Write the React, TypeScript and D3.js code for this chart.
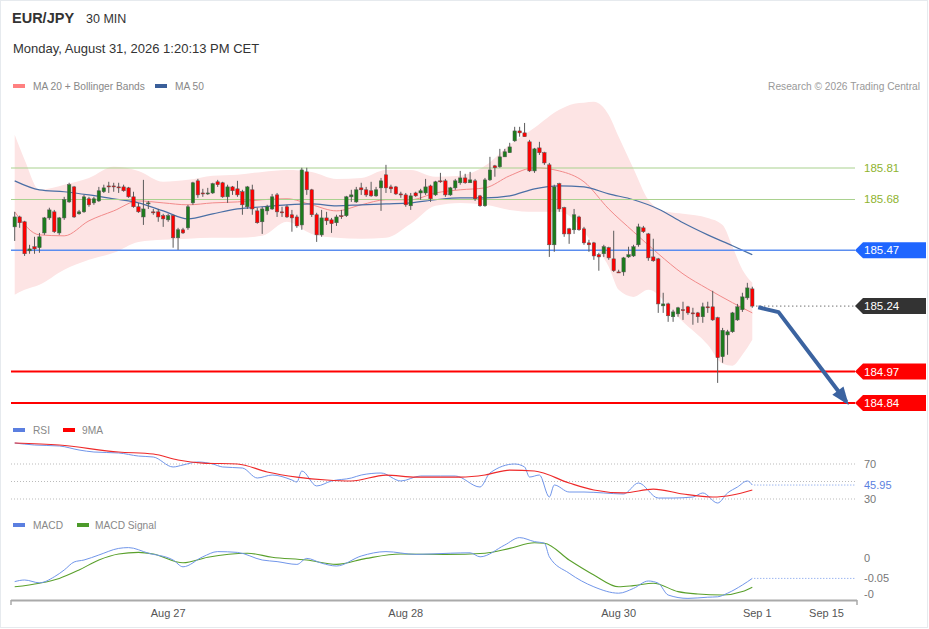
import React from 'react';
import * as d3 from 'd3';

// candles, 30 min, index 0..149
const open = [185.567,185.608,185.588,185.468,185.485,185.481,185.542,185.604,185.629,185.542,185.604,185.670,185.732,185.621,185.629,185.683,185.666,185.674,185.712,185.736,185.736,185.732,185.732,185.728,185.691,185.650,185.608,185.662,185.629,185.629,185.613,185.596,185.613,185.522,185.555,185.563,185.666,185.757,185.707,185.707,185.707,185.753,185.749,185.691,185.732,185.724,185.712,185.650,185.720,185.633,185.588,185.633,185.641,185.699,185.629,185.650,185.617,185.608,185.575,185.794,185.720,185.617,185.534,185.604,185.596,185.584,185.613,185.613,185.691,185.670,185.728,185.720,185.716,185.695,185.728,185.782,185.732,185.732,185.703,185.699,185.654,185.707,185.707,185.707,185.736,185.699,185.757,185.757,185.699,185.728,185.749,185.769,185.749,185.757,185.695,185.654,185.761,185.819,185.815,185.856,185.873,185.922,185.963,185.955,185.918,185.798,185.893,185.873,185.823,185.493,185.745,185.646,185.559,185.555,185.608,185.559,185.501,185.501,185.452,185.456,185.481,185.435,185.381,185.381,185.443,185.447,185.493,185.563,185.538,185.443,185.435,185.241,185.249,185.196,185.208,185.225,185.237,185.212,185.212,185.196,185.237,185.237,185.192,185.031,185.121,185.134,185.183,185.225,185.274,185.311];
const high = [185.629,185.613,185.592,185.493,185.526,185.542,185.608,185.646,185.637,185.608,185.691,185.749,185.736,185.637,185.699,185.691,185.691,185.732,185.741,185.753,185.749,185.749,185.741,185.732,185.712,185.666,185.761,185.674,185.641,185.641,185.621,185.621,185.617,185.563,185.563,185.658,185.753,185.765,185.724,185.728,185.749,185.761,185.753,185.741,185.736,185.757,185.720,185.736,185.741,185.646,185.650,185.658,185.703,185.707,185.650,185.658,185.637,185.617,185.811,185.811,185.724,185.625,185.637,185.629,185.604,185.617,185.637,185.695,185.720,185.732,185.749,185.732,185.753,185.732,185.769,185.823,185.741,185.736,185.712,185.707,185.707,185.712,185.724,185.765,185.741,185.757,185.790,185.765,185.732,185.765,185.798,185.786,185.794,185.765,185.699,185.769,185.856,185.823,185.889,185.889,185.914,185.980,185.980,185.996,185.926,185.893,185.918,185.877,185.831,185.741,185.749,185.650,185.563,185.641,185.613,185.567,185.514,185.505,185.460,185.493,185.485,185.551,185.390,185.443,185.485,185.493,185.580,185.571,185.542,185.518,185.439,185.295,185.254,185.225,185.237,185.258,185.241,185.233,185.216,185.254,185.258,185.303,185.196,185.150,185.142,185.216,185.249,185.295,185.336,185.320];
const low = [185.509,185.563,185.447,185.456,185.456,185.460,185.534,185.596,185.542,185.534,185.596,185.666,185.604,185.617,185.625,185.650,185.658,185.670,185.707,185.707,185.712,185.707,185.712,185.687,185.646,185.625,185.575,185.641,185.617,185.588,185.567,185.588,185.481,185.472,185.538,185.555,185.658,185.687,185.691,185.699,185.703,185.732,185.687,185.666,185.699,185.691,185.617,185.641,185.617,185.580,185.538,185.617,185.637,185.608,185.608,185.604,185.547,185.563,185.555,185.699,185.608,185.505,185.526,185.575,185.542,185.571,185.600,185.608,185.670,185.666,185.699,185.691,185.691,185.691,185.633,185.707,185.707,185.699,185.687,185.650,185.637,185.691,185.679,185.699,185.670,185.695,185.749,185.691,185.695,185.720,185.741,185.745,185.749,185.674,185.650,185.650,185.757,185.774,185.811,185.856,185.873,185.918,185.939,185.939,185.794,185.790,185.864,185.823,185.443,185.464,185.629,185.526,185.497,185.538,185.551,185.493,185.464,185.431,185.386,185.443,185.431,185.381,185.377,185.365,185.439,185.443,185.485,185.542,185.427,185.423,185.212,185.212,185.175,185.175,185.196,185.183,185.204,185.163,185.171,185.171,185.212,185.179,184.923,185.006,185.039,185.130,185.179,185.216,185.266,185.233];
const close = [185.608,185.584,185.456,185.476,185.476,185.526,185.604,185.637,185.547,185.604,185.679,185.741,185.608,185.629,185.691,185.658,185.683,185.716,185.728,185.732,185.734,185.730,185.716,185.691,185.650,185.629,185.641,185.666,185.625,185.608,185.600,185.613,185.522,185.555,185.542,185.650,185.749,185.699,185.705,185.707,185.745,185.741,185.691,185.732,185.716,185.699,185.658,185.732,185.641,185.584,185.641,185.650,185.691,185.629,185.627,185.608,185.604,185.571,185.802,185.720,185.617,185.534,185.604,185.592,185.580,185.608,185.611,185.691,185.699,185.720,185.720,185.699,185.695,185.720,185.757,185.728,185.724,185.703,185.699,185.658,185.695,185.695,185.716,185.732,185.683,185.753,185.755,185.699,185.728,185.757,185.769,185.749,185.761,185.683,185.654,185.761,185.802,185.811,185.856,185.877,185.897,185.963,185.955,185.939,185.798,185.889,185.873,185.831,185.493,185.732,185.641,185.538,185.538,185.617,185.555,185.501,185.493,185.447,185.443,185.485,185.439,185.386,185.379,185.439,185.452,185.485,185.567,185.547,185.439,185.427,185.249,185.249,185.200,185.216,185.233,185.223,185.212,185.210,185.196,185.237,185.235,185.183,185.027,185.140,185.134,185.212,185.237,185.278,185.315,185.240];

// Bollinger bands
const bandIdx = [0,2,5,10,15,20,25,30,35,40,45,50,55,60,65,70,75,80,85,90,95,100,105,110,113,115,117,120,122,125,128,130,132,135,140,143,145,147,149];
const bandUpper = [185.947,185.844,185.720,185.741,185.769,185.815,185.798,185.753,185.761,185.778,185.782,185.794,185.802,185.794,185.765,185.769,185.802,185.802,185.774,185.778,185.819,185.906,185.976,186.050,186.075,186.079,186.083,186.029,185.939,185.807,185.679,185.641,185.629,185.621,185.604,185.575,185.485,185.390,185.336];
const bandLower = [185.287,185.307,185.328,185.390,185.431,185.460,185.505,185.514,185.518,185.522,185.522,185.530,185.588,185.538,185.522,185.518,185.522,185.580,185.654,185.666,185.658,185.637,185.629,185.629,185.596,185.547,185.493,185.402,185.307,185.278,185.307,185.287,185.237,185.175,185.080,185.002,184.994,185.039,185.101];

// moving averages
const maIdx = [0,5,10,15,20,25,30,35,40,45,50,55,60,65,70,75,80,85,90,95,100,105,110,115,120,125,130,135,140,145,149];
const ma20 = [185.629,185.534,185.530,185.592,185.633,185.674,185.666,185.658,185.666,185.670,185.679,185.683,185.658,185.633,185.658,185.679,185.679,185.707,185.720,185.728,185.778,185.811,185.798,185.753,185.641,185.547,185.456,185.373,185.311,185.254,185.212];
const ma50 = [185.757,185.720,185.712,185.699,185.683,185.666,185.633,185.600,185.621,185.641,185.650,185.658,185.662,185.654,185.658,185.662,185.666,185.679,185.687,185.687,185.695,185.724,185.736,185.732,185.703,185.679,185.641,185.584,185.534,185.489,185.452];

// RSI
const rsiIdx = [0,4,9,13,16,21,25,28,32,34,37,40,42,46,49,52,56,57,58,61,64,68,70,74,78,82,86,89,94,96,101,103,104,106,108,109,112,115,119,123,126,130,133,137,139,142,144,146,148,149];
const rsi = [94.0,91.7,90.6,86.0,83.7,82.6,79.1,78.0,66.6,68.9,72.3,70.0,66.6,65.4,54.0,57.4,51.7,49.4,62.0,44.9,50.6,54.0,57.4,59.7,50.6,56.3,56.3,56.3,43.7,59.7,70.0,66.6,55.1,57.4,32.3,46.0,38.0,38.0,36.9,35.7,48.3,31.1,31.1,32.3,36.9,25.4,36.9,43.7,50.6,45.95];
const rsiMaIdx = [0,9,21,28,33,38,45,51,57,63,68,75,81,90,95,100,105,112,117,123,129,135,141,145,149];
const rsiMa = [94.0,91.7,83.7,81.4,74.6,71.1,70.0,60.9,55.1,51.7,50.6,57.4,55.1,55.1,57.4,63.1,62.0,48.3,40.3,36.9,41.4,35.7,32.3,34.6,40.3];
const rsiGrid = [70, 50, 30];
const rsiTicks = [70, 30];

// MACD
const macdIdx = [0,2,5,8,10,12,14,17,21,23,27,32,34,38,41,45,50,53,57,59,62,65,70,75,81,88,92,94,99,102,105,107,108,112,117,122,125,128,130,132,136,140,142,144,147,149];
const macd = [-0.059,-0.055,-0.062,-0.047,-0.030,-0.010,-0.005,0.0075,0.024,0.026,0.012,-0.005,-0.022,0.003,0.016,0.014,-0.005,-0.009,-0.016,-0.001,-0.013,-0.020,0.005,0.016,0.009,0.012,0.013,0.003,0.0325,0.051,0.041,0.037,0.003,-0.038,-0.072,-0.088,-0.076,-0.0575,-0.063,-0.0925,-0.101,-0.098,-0.097,-0.088,-0.0675,-0.051];
const sigIdx = [0,5,9,13,17,21,25,28,34,39,47,52,59,65,71,78,87,95,100,105,107,112,117,122,125,129,134,138,143,147,149];
const signal = [-0.072,-0.063,-0.051,-0.030,-0.005,0.010,0.014,0.010,-0.012,0.002,0.012,0.002,-0.005,-0.016,-0.001,0.010,0.009,0.012,0.024,0.038,0.037,-0.005,-0.0425,-0.072,-0.069,-0.063,-0.084,-0.090,-0.0925,-0.084,-0.073];
const macdTicks = [{ v: 0, label: '0' }, { v: -0.09, label: '-0' }];

// levels
const greenLevels = [185.81, 185.68];
const boxLevels = [
  { v: 185.47, color: '#1f66ff', line: '#5b8def', width: 1.5 },
  { v: 185.24, color: '#333333', line: null, width: 0 },
  { v: 184.97, color: '#ff0000', line: '#ff0000', width: 2 },
  { v: 184.84, color: '#ff0000', line: '#ff0000', width: 2 },
];
const arrowPts = [[150.2, 185.235], [154.3, 185.215], [168.0, 184.845]];

const xTicks = [
  { i: 31, label: 'Aug 27' },
  { i: 79, label: 'Aug 28' },
  { i: 122, label: 'Aug 30' },
  { i: 150, label: 'Sep 1' },
  { i: 164, label: 'Sep 15' },
];

const FONT = '"Liberation Sans", Arial, sans-serif';
const PLOT_L = 11;
const PLOT_R = 855;
const LEG = 10.2;

export default function App() {
  const x = d3.scaleLinear().domain([0, 149]).range([14.7, 752.3]);
  const y = d3.scaleLinear().domain([184.84, 185.81]).range([403, 168]);
  const ry = d3.scaleLinear().domain([30, 70]).range([499, 464]);
  const my = d3.scaleLinear().domain([-0.05, 0]).range([578, 558]);

  const series = (idx: number[], vals: number[], sy: any) =>
    d3.line<number>().x((_, k) => x(idx[k])).y((v) => sy(v)).curve(d3.curveMonotoneX)(vals) || '';

  const bandPath =
    d3
      .area<number>()
      .x((_, k) => x(bandIdx[k]))
      .y0((_, k) => y(bandLower[k]))
      .y1((v) => y(v))
      .curve(d3.curveMonotoneX)(bandUpper) || '';

  const arrowLine = d3.line<number[]>().x((d) => x(d[0])).y((d) => y(d[1]));
  const last = arrowPts[arrowPts.length - 1];
  const prev = arrowPts[arrowPts.length - 2];
  const ax = x(last[0]);
  const ayy = y(last[1]);
  const ang = Math.atan2(ayy - y(prev[1]), ax - x(prev[0]));
  const head = [
    [ax + 4 * Math.cos(ang), ayy + 4 * Math.sin(ang)],
    [ax - 14 * Math.cos(ang) + 7 * Math.sin(ang), ayy - 14 * Math.sin(ang) - 7 * Math.cos(ang)],
    [ax - 14 * Math.cos(ang) - 7 * Math.sin(ang), ayy - 14 * Math.sin(ang) + 7 * Math.cos(ang)],
  ];

  const boxPath = (cy: number) =>
    `M${PLOT_R},${cy} L${PLOT_R + 8},${cy - 8} L926,${cy - 8} L926,${cy + 8} L${PLOT_R + 8},${cy + 8} Z`;

  const lastRsi = rsi[rsi.length - 1];
  const lastMacd = macd[macd.length - 1];

  return (
    <div style={{ position: 'absolute', left: 0, top: 0 }}>
      <svg width={929} height={629} style={{ display: 'block', fontFamily: FONT }}>
        <rect x={0} y={0} width={929} height={629} fill="#ffffff" />
        <rect x={0.5} y={0.5} width={927} height={627} fill="none" stroke="#e6eaee" />

        {/* header */}
        <text x={12} y={23} fontSize={14.5} fontWeight="bold" fill="#333">EUR/JPY</text>
        <text x={86} y={22.5} fontSize={12.5} fill="#333">30 MIN</text>
        <text x={13} y={53} fontSize={13} fill="#333">Monday, August 31, 2026 1:20:13 PM CET</text>

        <rect x={13} y={84} width={12} height={4} fill="#ff8080" />
        <text x={33} y={89.5} fontSize={LEG} fill="#888">MA 20 + Bollinger Bands</text>
        <rect x={155} y={84} width={12} height={4} fill="#3a5f9a" />
        <text x={175} y={89.5} fontSize={LEG} fill="#888">MA 50</text>
        <text x={920} y={89.5} fontSize={LEG} fill="#999" textAnchor="end">Research © 2026 Trading Central</text>

        {/* bollinger + MAs */}
        <path d={bandPath} fill="#fde4e4" />
        <path d={series(maIdx, ma20, y)} fill="none" stroke="#f28a8a" strokeWidth={1} />
        <path d={series(maIdx, ma50, y)} fill="none" stroke="#4a6fa5" strokeWidth={1.2} />

        {/* levels */}
        {greenLevels.map((v) => (
          <g key={v}>
            <line x1={PLOT_L} x2={PLOT_R} y1={y(v)} y2={y(v)} stroke="#a9d18e" strokeWidth={1} />
            <text x={864} y={y(v) + 4} fontSize={11.5} fill="#8fb32f">{v.toFixed(2)}</text>
          </g>
        ))}
        {boxLevels.map((b) =>
          b.line ? (
            <line key={'l' + b.v} x1={PLOT_L} x2={PLOT_R} y1={y(b.v)} y2={y(b.v)} stroke={b.line} strokeWidth={b.width} />
          ) : null
        )}
        <line x1={x(149) + 4} x2={PLOT_R} y1={y(close[149])} y2={y(close[149])} stroke="#333" strokeDasharray="1,3" />

        {/* candles */}
        {open.map((o, i) => {
          const c = close[i];
          const up = c >= o;
          const top = y(Math.max(o, c));
          const h = Math.max(1, Math.abs(y(o) - y(c)));
          return (
            <g key={i}>
              <line x1={x(i)} x2={x(i)} y1={y(high[i])} y2={y(low[i])} stroke="#5a5a5a" strokeWidth={1} />
              <rect x={x(i) - 1.7} y={top} width={3.4} height={h} fill={up ? '#1c7c1c' : '#ff0000'} stroke="#555" strokeWidth={0.5} />
            </g>
          );
        })}

        {/* arrow */}
        <path d={arrowLine(arrowPts as any) || ''} fill="none" stroke="#3b63a0" strokeWidth={4} strokeLinejoin="round" />
        <path d={`M${head[0][0]},${head[0][1]} L${head[1][0]},${head[1][1]} L${head[2][0]},${head[2][1]} Z`} fill="#3b63a0" />

        {boxLevels.map((b) => (
          <g key={'b' + b.v}>
            <path d={boxPath(y(b.v))} fill={b.color} />
            <text x={864} y={y(b.v) + 4} fontSize={11.5} fill="#fff">{b.v.toFixed(2)}</text>
          </g>
        ))}

        {/* RSI panel */}
        <rect x={13} y={428} width={12} height={4} fill="#5b7fe0" />
        <text x={33} y={433.5} fontSize={LEG} fill="#888">RSI</text>
        <rect x={63} y={428} width={12} height={4} fill="#ff0000" />
        <text x={82} y={433.5} fontSize={LEG} fill="#888">9MA</text>
        {rsiGrid.map((v) => (
          <line key={v} x1={PLOT_L} x2={PLOT_R} y1={ry(v)} y2={ry(v)} stroke="#bbb" strokeDasharray="1,2" />
        ))}
        {rsiTicks.map((v) => (
          <text key={v} x={864} y={ry(v) + 4} fontSize={11} fill="#777">{v}</text>
        ))}
        <path d={series(rsiIdx, rsi, ry)} fill="none" stroke="#7196ea" strokeWidth={1} />
        <path d={series(rsiMaIdx, rsiMa, ry)} fill="none" stroke="#ee2a2a" strokeWidth={1.2} />
        <line x1={x(149) + 2} x2={PLOT_R} y1={ry(lastRsi)} y2={ry(lastRsi)} stroke="#7196ea" strokeDasharray="1,2" />
        <text x={864} y={ry(lastRsi) + 4} fontSize={11} fill="#5b7fe0">{lastRsi.toFixed(2)}</text>

        {/* MACD panel */}
        <rect x={13} y={523} width={12} height={4} fill="#5b7fe0" />
        <text x={33} y={528.5} fontSize={LEG} fill="#888">MACD</text>
        <rect x={77} y={523} width={12} height={4} fill="#4c9a2a" />
        <text x={95} y={528.5} fontSize={LEG} fill="#888">MACD Signal</text>
        {macdTicks.map((t) => (
          <text key={t.label} x={864} y={my(t.v) + 4} fontSize={11} fill="#777">{t.label}</text>
        ))}
        <path d={series(sigIdx, signal, my)} fill="none" stroke="#5aa02c" strokeWidth={1.1} />
        <path d={series(macdIdx, macd, my)} fill="none" stroke="#7196ea" strokeWidth={1} />
        <line x1={x(149) + 2} x2={PLOT_R} y1={my(lastMacd)} y2={my(lastMacd)} stroke="#7196ea" strokeDasharray="1,2" />
        <text x={864} y={my(lastMacd) + 4} fontSize={11} fill="#777">{lastMacd.toFixed(2)}</text>

        {/* x axis */}
        <line x1={PLOT_L} x2={857} y1={600.5} y2={600.5} stroke="#aaa" strokeWidth={2} />
        <line x1={PLOT_L} x2={PLOT_L} y1={600} y2={605} stroke="#aaa" strokeWidth={1.5} />
        <line x1={857} x2={857} y1={600} y2={605} stroke="#aaa" strokeWidth={1.5} />
        {xTicks.map((t) => (
          <text key={t.label} x={x(t.i)} y={617} fontSize={11} fill="#555" textAnchor="middle">{t.label}</text>
        ))}
      </svg>
    </div>
  );
}
